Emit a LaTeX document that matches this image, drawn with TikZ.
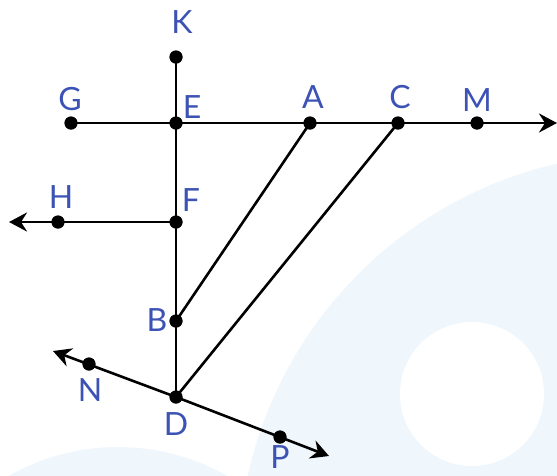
\documentclass[tikz,border=0pt]{standalone}
\usepackage{fontspec}
\setmainfont{Lato}
\usetikzlibrary{arrows.meta}
\definecolor{lbl}{RGB}{60,82,180}
\definecolor{bgblue}{RGB}{239,247,253}
\begin{document}
\begin{tikzpicture}[x=1pt,y=-1pt,
  ln/.style={line width=2.6pt,black},
  ray/.style={ln,-{Stealth[length=18pt,width=19pt,inset=6pt]}},
  pt/.style={circle,fill=black,inner sep=0pt,minimum size=13pt},
  lab/.style={text=lbl,font=\fontsize{32}{32}\selectfont,inner sep=0pt,anchor=center}]
\useasboundingbox (0,0) rectangle (557,475);
% background watermark
\begin{scope}
\clip (0,0) rectangle (557,475);
\fill[bgblue] (650,565) circle (412);
\fill[white] (472,394) circle (72);
\fill[bgblue] (118,668) circle (221);
\end{scope}
% points
\node[pt] (K) at (176,57) {};
\node[pt] (E) at (176,123) {};
\node[pt] (G) at (71,123) {};
\node[pt] (A) at (310,123) {};
\node[pt] (C) at (398,123) {};
\node[pt] (M) at (477,123) {};
\node[pt] (F) at (176,222) {};
\node[pt] (H) at (58,222) {};
\node[pt] (B) at (176,321) {};
\node[pt] (D) at (176,397) {};
\node[pt] (N) at (89,364) {};
\node[pt] (P) at (280,437) {};
\coordinate (Mend) at (557,123);
\coordinate (Hend) at (9,222);
\coordinate (Nend) at (53,351);
\coordinate (Pend) at (329,456);
% lines
\draw[ln] (K.center) -- (D.center);
\draw[ray] (G.center) -- (Mend);
\draw[ray] (F.center) -- (Hend);
\draw[ray] (D.center) -- (Nend);
\draw[ray] (D.center) -- (Pend);
\draw[ln] (A.center) -- (B.center);
\draw[ln] (C.center) -- (D.center);
% redraw dots on top
\foreach \p in {K,E,G,A,C,M,F,H,B,D,N,P} \fill (\p.center) circle (6.5);
% labels
\node[lab] (lK) at (182,22) {K};
\node[lab] (lE) at (192,107) {E};
\node[lab] (lG) at (70,99) {G};
\node[lab] (lA) at (313,97) {A};
\node[lab] (lC) at (400,97) {C};
\node[lab] (lM) at (477,100) {M};
\node[lab] (lH) at (61,197) {H};
\node[lab] (lF) at (191,200) {F};
\node[lab] (lB) at (157,320) {B};
\node[lab] (lN) at (90,390) {N};
\node[lab] (lD) at (176,424) {D};
\node[lab] (lP) at (280,457) {P};
\end{tikzpicture}
\end{document}
